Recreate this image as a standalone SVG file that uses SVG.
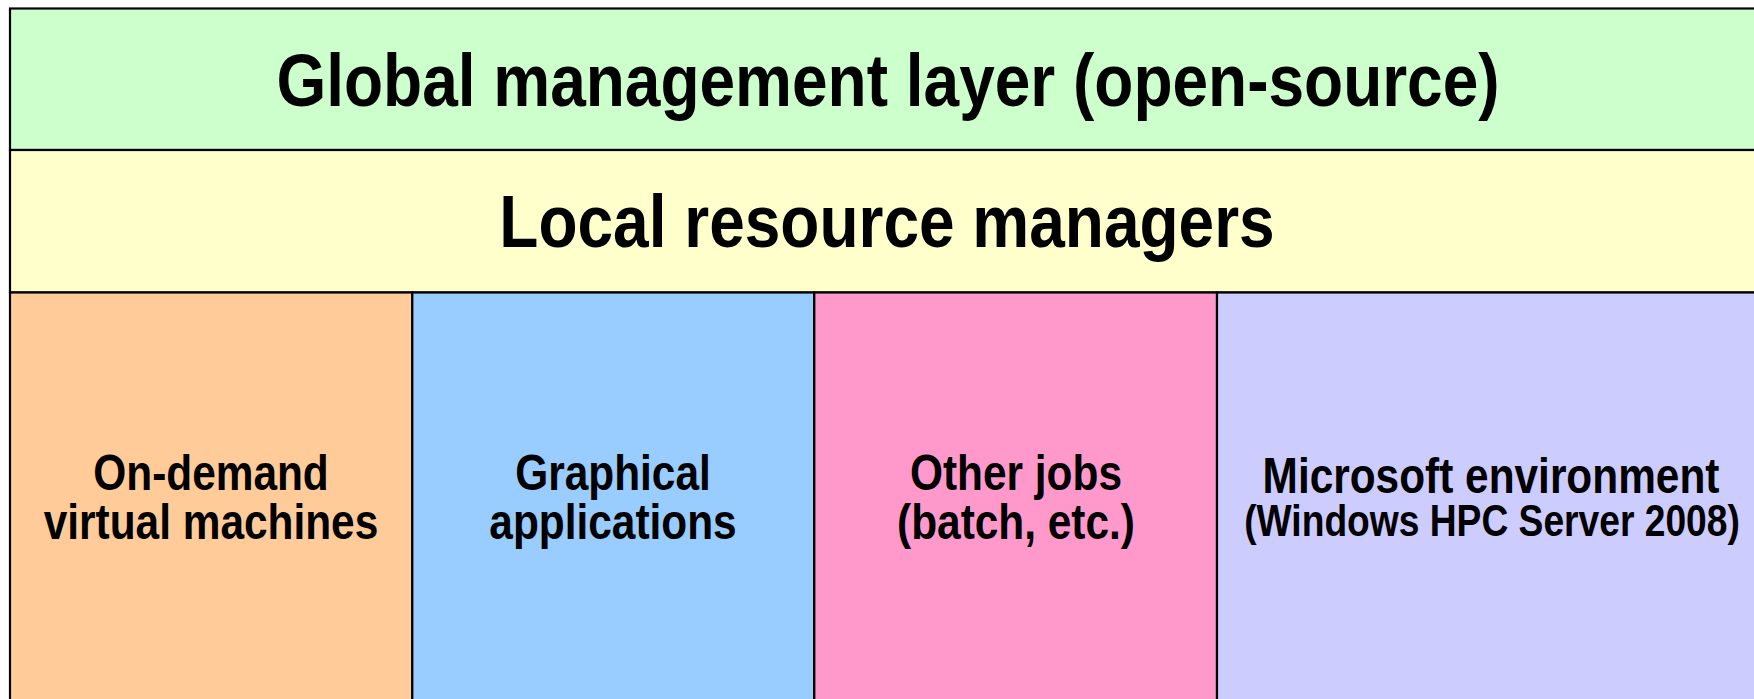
<svg xmlns="http://www.w3.org/2000/svg" width="1754" height="699" viewBox="0 0 1754 699">
<style>
.box{stroke:#000;stroke-width:2.2}
.t{font-family:"Liberation Sans",Arial,sans-serif;font-weight:bold;fill:#000;text-anchor:middle}
.big{font-size:64px}
.mid{font-size:42.4px}
.sm{font-size:37.2px}
</style>
<rect width="1754" height="699" fill="#fff"/>
<g id="global">
<rect class="box" x="10" y="8.5" width="1760" height="141.5" fill="#CCFFCC"/>
<text class="t big" transform="translate(888,106) scale(1,1.17)">Global management layer (open-source)</text>
</g>
<g id="local">
<rect class="box" x="10" y="150" width="1760" height="142.5" fill="#FFFFCC"/>
<text class="t big" transform="translate(887,247) scale(1,1.17)">Local resource managers</text>
</g>
<g id="vm">
<rect class="box" x="10" y="292.5" width="402.3" height="420" fill="#FFCC99"/>
<text class="t mid" transform="translate(211,490) scale(1,1.17)">On-demand</text>
<text class="t mid" transform="translate(211,539) scale(1,1.17)">virtual machines</text>
</g>
<g id="graphical">
<rect class="box" x="412.3" y="292.5" width="402" height="420" fill="#99CCFF"/>
<text class="t mid" transform="translate(613,490) scale(1,1.17)">Graphical</text>
<text class="t mid" transform="translate(613,539) scale(1,1.17)">applications</text>
</g>
<g id="other">
<rect class="box" x="814.3" y="292.5" width="402.7" height="420" fill="#FF99CC"/>
<text class="t mid" transform="translate(1016,490) scale(1,1.17)">Other jobs</text>
<text class="t mid" transform="translate(1016,539) scale(1,1.17)">(batch, etc.)</text>
</g>
<g id="microsoft">
<rect class="box" x="1217" y="292.5" width="560" height="420" fill="#CCCCFF"/>
<text class="t mid" transform="translate(1491,493) scale(1,1.17)">Microsoft environment</text>
<text class="t sm" transform="translate(1492,536) scale(1,1.17)">(Windows HPC Server 2008)</text>
</g>
<g id="connectors"></g>
</svg>
